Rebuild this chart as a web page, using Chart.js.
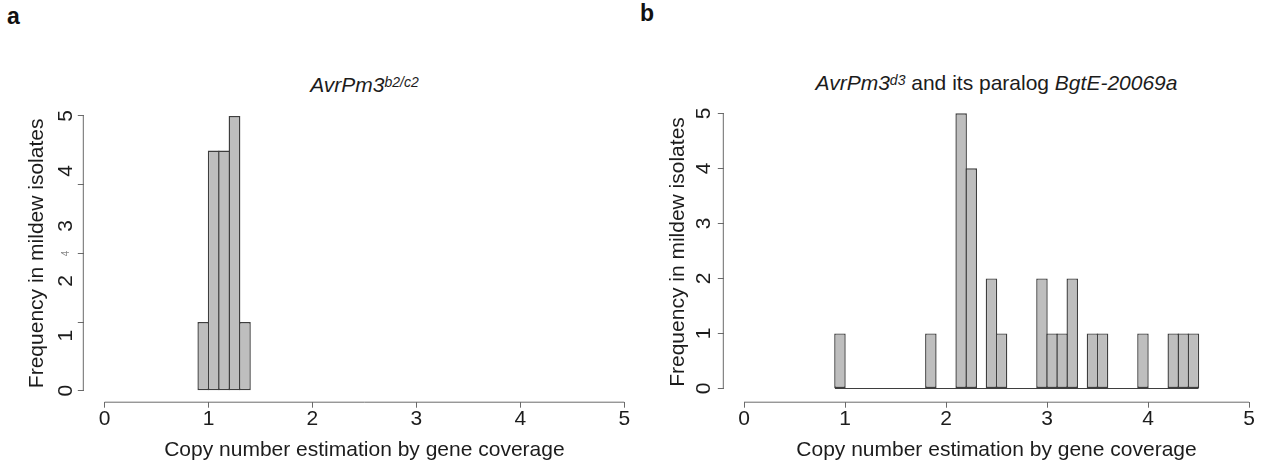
<!DOCTYPE html>
<html>
<head>
<meta charset="utf-8">
<script src="https://cdn.jsdelivr.net/npm/chart.js@4.4.1/dist/chart.umd.min.js"></script>
<style>
  html, body { margin: 0; padding: 0; background: #fff; }
  body { width: 1277px; height: 470px; position: relative; overflow: hidden;
         font-family: "Liberation Sans", Arial, sans-serif; color: #1c1c1c; }
  canvas.panel { position: absolute; left: 0; top: 0; }
  .letter { position: absolute; font-weight: bold; font-size: 23px; line-height: 23px; color: #111; }
  .title { position: absolute; width: 420px; font-size: 21px; line-height: 21px;
           white-space: nowrap; text-align: center; }
  .title .sup { font-size: 14px; position: relative; top: -5px; }
</style>
</head>
<body>
<div class="letter" style="left:7px; top:4.5px;">a</div>
<div class="letter" style="left:640px; top:1.5px;">b</div>
<div class="title" style="left:154.5px; top:74px;"><i>AvrPm3<span class="sup">b2/c2</span></i></div>
<div class="title" style="left:786.5px; top:71.5px;"><i>AvrPm3<span class="sup">d3</span></i> and its paralog <i>BgtE-20069a</i></div>
<canvas id="histA" class="panel" width="1277" height="470"></canvas>
<canvas id="histB" class="panel" width="1277" height="470"></canvas>
<script>
// ---- data ----
const binWidth = 0.1;
const xTickValues = [0, 1, 2, 3, 4, 5];
const xTitle = 'Copy number estimation by gene coverage';
const yTitle = 'Frequency in mildew isolates';

// panel a
const binStartsA = [0.9, 1.0, 1.1, 1.2, 1.3];
const countsA = [1.25, 4.37, 4.37, 5, 1.25];
const yLabelValuesA = [0, 1, 2, 3, 4, 5];
const yTickMarksA = [0, 1.25, 2.5, 3.75, 5];   // marks on panel a don't line up with its numbers
const yStrayValueA = 2.5;                       // small leftover "4" next to the middle mark
const yStrayTextA = '4';

// panel b
const binStartsB = [0.9, 1.8, 2.1, 2.2, 2.4, 2.5, 2.9, 3.0, 3.1, 3.2, 3.4, 3.5, 3.9, 4.2, 4.3, 4.4];
const countsB = [1, 1, 5, 4, 2, 1, 2, 1, 1, 2, 1, 1, 1, 1, 1, 1];
const yTickValuesB = [0, 1, 2, 3, 4, 5];

// ---- style ----
const FONT = '"Liberation Sans", Arial, sans-serif';
const TEXT = '#1c1c1c';
const AXIS = '#6a6a6a';
const BAR_FILL = '#bebebe';
const BAR_EDGE = '#3e3e3e';
const EDGE_W = 1.4;
const CLEAR = 'rgba(0,0,0,0)';
const X_MIN = -0.2, X_MAX = 5.2;

function histPoints(starts, counts) {
  return starts.map((s, i) => ({ x: s + binWidth / 2, y: counts[i] }));
}

// R draws its axis line only between first and last tick
const rAxisLines = {
  id: 'rAxisLines',
  afterDraw(chart) {
    const { ctx, chartArea, scales: { x, y } } = chart;
    const yVals = y.ticks.map(t => t.value);
    ctx.save();
    ctx.strokeStyle = AXIS;
    ctx.lineWidth = 1;
    ctx.beginPath();
    ctx.moveTo(x.getPixelForValue(xTickValues[0]), chartArea.bottom + 0.5);
    ctx.lineTo(x.getPixelForValue(xTickValues[xTickValues.length - 1]), chartArea.bottom + 0.5);
    ctx.moveTo(chartArea.left - 0.5, y.getPixelForValue(Math.min(...yVals)));
    ctx.lineTo(chartArea.left - 0.5, y.getPixelForValue(Math.max(...yVals)));
    ctx.stroke();
    ctx.restore();
  }
};

function xScale(xHeight) {
  return {
    type: 'linear', min: X_MIN, max: X_MAX, offset: false,
    afterBuildTicks: s => { s.ticks = xTickValues.map(v => ({ value: v })); },
    afterFit: s => { s.height = xHeight; },
    border: { display: false },
    grid: { offset: false, drawOnChartArea: false, drawTicks: true, tickLength: 6, tickColor: AXIS, tickWidth: 1 },
    ticks: { color: TEXT, font: { family: FONT, size: 21, lineHeight: 1 }, padding: 1, maxRotation: 0, autoSkip: false },
    title: { display: true, text: xTitle, color: TEXT, font: { family: FONT, size: 21, lineHeight: 1.2 }, padding: { top: 0, bottom: 7.4 } }
  };
}

function yScale(opts) {
  return {
    type: 'linear', min: opts.min, max: 5.2,
    afterBuildTicks: s => { s.ticks = opts.ticks.map(v => ({ value: v })); },
    afterFit: s => { s.width = opts.width; },
    border: { display: false },
    grid: { drawOnChartArea: false, drawTicks: true, tickLength: 6, tickWidth: 1, tickColor: opts.tickColor || AXIS },
    ticks: {
      minRotation: 90, maxRotation: 90, crossAlign: 'center', autoSkip: false,
      padding: opts.pad, callback: opts.label || (v => String(v)),
      color: opts.color || TEXT,
      font: opts.font || { family: FONT, size: 21 }
    },
    title: { display: true, text: yTitle, color: TEXT, font: { family: FONT, size: 21, lineHeight: 1.2 }, padding: { top: opts.titlePad, bottom: 0 } }
  };
}

function histChart(id, cfg) {
  // plot box in page pixels; bars get one edge-width extra so touching bins share one edge
  const binPx = (cfg.right - cfg.left) / (X_MAX - X_MIN) * binWidth;
  const datasets = [{
    type: 'bar',
    data: histPoints(cfg.starts, cfg.counts),
    backgroundColor: BAR_FILL,
    borderColor: BAR_EDGE,
    borderWidth: EDGE_W,
    borderSkipped: false,
    inflateAmount: 0,
    barThickness: binPx + EDGE_W
  }];
  if (cfg.baseline) {
    datasets.push({
      type: 'line',
      data: [{ x: cfg.starts[0], y: 0 }, { x: cfg.starts[cfg.starts.length - 1] + binWidth, y: 0 }],
      borderColor: BAR_EDGE, borderWidth: 1.2, pointRadius: 0
    });
  }
  return new Chart(document.getElementById(id), {
    type: 'bar',
    data: { datasets },
    options: {
      responsive: false,
      devicePixelRatio: 1,
      animation: false,
      events: [],
      layout: { padding: { left: cfg.left - cfg.yWidth, right: 1277 - cfg.right, top: cfg.top, bottom: 0 } },
      plugins: { legend: { display: false }, tooltip: { enabled: false } },
      scales: { x: xScale(470 - cfg.bottom), y: cfg.y }
    },
    plugins: [rAxisLines]
  });
}

// panel a: numbers 0..5 plus marks at their own spacing
const yTicksA = [...new Set([...yLabelValuesA, ...yTickMarksA, yStrayValueA])].sort((a, b) => a - b);
histChart('histA', {
  starts: binStartsA, counts: countsA, baseline: false,
  left: 83.8, right: 645, top: 105, bottom: 401.7, yWidth: 83.8,
  y: yScale({
    min: -0.2, ticks: yTicksA, width: 83.8, pad: 6, titlePad: 24.4,
    label: v => yLabelValuesA.includes(v) ? String(v) : (v === yStrayValueA ? yStrayTextA : ''),
    tickColor: c => (c.tick && yTickMarksA.includes(c.tick.value)) ? AXIS : CLEAR,
    color: c => (c.tick && c.tick.value === yStrayValueA) ? '#8a8a8a' : TEXT,
    font: c => (c.tick && c.tick.value === yStrayValueA) ? { family: FONT, size: 10 } : { family: FONT, size: 21 }
  })
});

// panel b
histChart('histB', {
  starts: binStartsB, counts: countsB, baseline: true,
  left: 723.8, right: 1269.2, top: 102.3, bottom: 401.7, yWidth: 64,
  y: yScale({ min: -0.24, ticks: yTickValuesB, width: 64, pad: 8, titlePad: 5.6 })
});
</script>
</body>
</html>
